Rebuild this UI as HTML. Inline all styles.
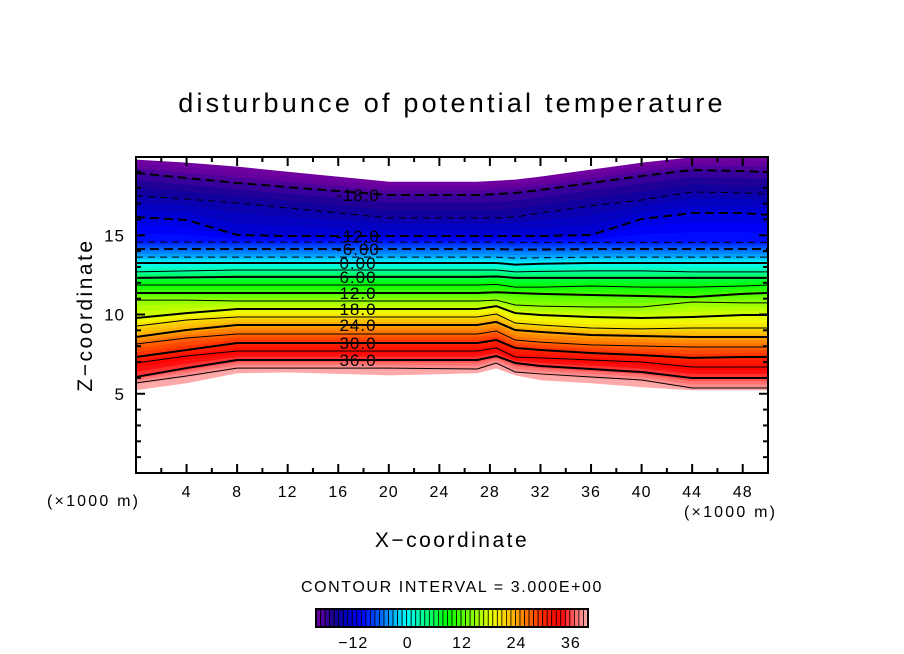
<!DOCTYPE html>
<html><head><meta charset="utf-8"><style>
body{margin:0;background:#fff;}
svg{display:block;font-family:"Liberation Sans",sans-serif;}
</style></head><body>
<svg id="chart" width="904" height="654" viewBox="0 0 904 654" xmlns="http://www.w3.org/2000/svg">
<rect width="904" height="654" fill="#fff"/>
<text x="452" y="112" text-anchor="middle" font-size="27" fill="#000" letter-spacing="3.2">disturbunce of potential temperature</text>
<g id="field"></g>
<g id="lines"></g>
<g id="labels"></g>
<g id="axes"></g>
<text x="452" y="547" text-anchor="middle" font-size="21" letter-spacing="2.5">X−coordinate</text>
<text transform="translate(92,315) rotate(-90)" text-anchor="middle" font-size="21" letter-spacing="2.5">Z−coordinate</text>
<text x="47" y="506" font-size="16" letter-spacing="2.2">(×1000 m)</text>
<text x="684" y="517" font-size="16" letter-spacing="2.2">(×1000 m)</text>
<text x="452" y="592" text-anchor="middle" font-size="16" letter-spacing="1.6">CONTOUR INTERVAL = 3.000E+00</text>
<g id="cbar"></g>
</svg>
<script>
const xs = [0,4,8,12,20,27,28.5,30,32,36,40,44,48,50];
const levels = [-18,-15,-12,-9,-6,-3,0,3,6,9,12,15,18,21,24,27,30,33,36,39];
const topEdge = [19.75,19.56,19.31,18.99,18.36,18.36,18.42,18.49,18.68,19.12,19.56,19.9,20,19.9];
const bottomEdge = [5.24,5.68,6.31,6.37,6.18,6.31,6.62,6.18,5.87,5.68,5.43,5.24,5.24,5.24];
const lvM18 = [18.93,18.61,18.30,18.04,17.54,17.54,17.60,17.67,17.86,18.30,18.74,19.12,19.05,18.99];
const lvM15 = [17.48,17.29,17.03,16.72,16.09,16.09,16.09,16.15,16.40,16.85,17.22,17.73,17.67,17.60];
const lvM12 = [16.15,15.96,15.02,14.95,14.95,14.95,14.95,14.95,14.95,15.02,16.02,16.40,16.40,16.28];
const lvM9 = [14.57,14.57,14.57,14.57,14.57,14.57,14.57,14.55,14.55,14.55,14.55,14.55,14.55,14.55];
const lvM6 = [14.13,14.13,14.13,14.13,14.13,14.13,14.13,14.10,14.10,14.13,14.13,14.13,14.13,14.13];
const lvM3 = [13.62,13.62,13.62,13.62,13.62,13.62,13.62,13.55,13.58,13.62,13.62,13.62,13.62,13.62];
const lv0 = [13.25,13.25,13.25,13.25,13.25,13.25,13.25,13.15,13.20,13.25,13.25,13.25,13.25,13.25];
const lv3 = [12.69,12.75,12.81,12.81,12.81,12.81,12.81,12.69,12.72,12.75,12.75,12.69,12.69,12.69];
const lv6 = [12.31,12.34,12.37,12.37,12.37,12.37,12.40,12.31,12.31,12.31,12.31,12.31,12.31,12.31];
const lv9 = [11.86,11.86,11.86,11.86,11.86,11.86,11.90,11.73,11.73,11.80,11.73,11.73,11.80,11.86];
const lv12 = [11.36,11.36,11.36,11.36,11.36,11.36,11.40,11.36,11.30,11.23,11.17,11.10,11.30,11.36];
const lv15 = [10.91,10.91,10.85,10.85,10.85,10.85,10.91,10.60,10.53,10.47,10.47,10.79,10.73,10.73];
const lv18 = [9.78,10.09,10.35,10.35,10.35,10.35,10.53,10.09,9.97,9.84,9.78,9.84,9.97,9.97];
const lv21 = [9.27,9.65,9.84,9.84,9.84,9.84,10.03,9.46,9.34,9.15,9.09,9.15,9.15,9.15];
const lv24 = [8.58,9.02,9.34,9.34,9.34,9.34,9.53,9.02,8.90,8.71,8.64,8.58,8.58,8.58];
const lv27 = [8.14,8.52,8.77,8.77,8.77,8.77,8.96,8.39,8.26,8.08,8.01,7.95,7.95,7.95];
const lv30 = [7.32,7.76,8.20,8.20,8.20,8.20,8.39,7.89,7.76,7.57,7.44,7.26,7.32,7.32];
const lv33 = [6.94,7.38,7.70,7.70,7.70,7.70,7.89,7.32,7.26,7.13,7.00,6.69,6.69,6.69];
const lv36 = [6.06,6.62,7.13,7.13,7.13,7.13,7.38,6.94,6.75,6.56,6.37,5.99,5.99,5.99];
const lv39 = [5.68,6.12,6.62,6.62,6.62,6.56,6.94,6.37,6.25,6.06,5.87,5.36,5.36,5.36];
const levelLines = [lvM18,lvM15,lvM12,lvM9,lvM6,lvM3,lv0,lv3,lv6,lv9,lv12,lv15,lv18,lv21,lv24,lv27,lv30,lv33,lv36,lv39];
const labelText = ["-18.0","-12.0","-6.00","0.00","6.00","12.0","18.0","24.0","30.0","36.0"];
const labelLevels = [-18,-12,-6,0,6,12,18,24,30,36];
const xTicks = [4,8,12,16,20,24,28,32,36,40,44,48];
const yTicks = [5,10,15];
const cbarTicks = [-12,0,12,24,36];

const NS="http://www.w3.org/2000/svg";
const X0=136,X1=768,Y0=473,Y1=157;
const xS=x=>X0+x/50*(X1-X0);
const yS=z=>Y0-z*15.85;
const stops=[[-20,[112,0,160]],[-16,[20,0,150]],[-13,[0,0,200]],[-10,[0,0,255]],[-5,[0,120,255]],[0,[0,255,255]],[4,[0,255,140]],[9,[0,255,0]],[14,[120,255,0]],[19,[240,255,0]],[24,[255,170,0]],[30,[255,40,0]],[34,[255,0,0]],[38,[255,130,130]],[40,[255,170,170]]];
function col(v){
  for(let i=0;i<stops.length-1;i++){const a=stops[i],b=stops[i+1];
    if(v<=b[0]){const t=Math.max(0,(v-a[0])/(b[0]-a[0]));return 'rgb('+a[1].map((c,k)=>Math.round(c+(b[1][k]-c)*t)).join(',')+')';}}
  return 'rgb(255,170,170)';
}
function mk(tag,attrs,parent){const e=document.createElementNS(NS,tag);for(const k in attrs)e.setAttribute(k,attrs[k]);parent.appendChild(e);return e;}
const field=document.getElementById('field');
const bounds=[topEdge].concat(levelLines).concat([bottomEdge]);
const bandBase=[-21].concat(levels);
for(let b=0;b<bounds.length-1;b++){
  const up=bounds[b],lo=bounds[b+1];
  // upper boundary corresponds to lower value (values increase downward)
  for(let s=0;s<3;s++){
    const f0=s/3,f1=(s+1)/3;
    // sub-band near "lo" has higher value
    const a=up.map((u,i)=>u+(lo[i]-u)*f0), c=up.map((u,i)=>u+(lo[i]-u)*f1);
    const v=(b===0)?(bandBase[1]-3+s+0.5):(bandBase[b]+s+0.5);
    const pts=xs.map((x,i)=>xS(x)+','+Math.max(Y1,yS(a[i]))).concat(xs.map((x,i)=>xS(x)+','+Math.max(Y1,yS(c[i]))).reverse());
    const p=mk('polygon',{points:pts.join(' '),fill:col(v),stroke:col(v),'stroke-width':0.6},field);
    
    
  }
}
const lg=document.getElementById('lines');
levelLines.forEach((arr,j)=>{
  const lv=levels[j];
  const thick=(lv%6===0);
  const pts=xs.map((x,i)=>xS(x)+','+Math.max(Y1,yS(arr[i]))).join(' ');
  const a={points:pts,fill:'none',stroke:'#000','stroke-width':thick?2:1};
  if(lv<0)a['stroke-dasharray']=thick?'9,5':'7,5';
  const l=mk('polyline',a,lg);
  
  
});
const lb=document.getElementById('labels');
labelLevels.forEach((lv,k)=>{
  const arr=levelLines[levels.indexOf(lv)];
  const y=yS(arr[4]);
  const t=mk('text',{x:358,y:y+6,'text-anchor':'middle','font-size':17,'letter-spacing':1,fill:'#000'},lb);
  t.textContent=labelText[k];
  
  
});
const ax=document.getElementById('axes');
mk('rect',{x:X0,y:Y1,width:X1-X0,height:Y0-Y1,fill:'none',stroke:'#000','stroke-width':2},ax);
for(let x=2;x<50;x+=2){
  const L=(x%4===0)?9:5;
  mk('line',{x1:xS(x),x2:xS(x),y1:Y0,y2:Y0-L,stroke:'#000','stroke-width':2},ax);
  mk('line',{x1:xS(x),x2:xS(x),y1:Y1,y2:Y1+L,stroke:'#000','stroke-width':2},ax);
}
for(let z=1;z<20;z++){
  const L=(z%5===0)?9:5;
  mk('line',{x1:X0,x2:X0+L,y1:yS(z),y2:yS(z),stroke:'#000','stroke-width':2},ax);
  mk('line',{x1:X1,x2:X1-L,y1:yS(z),y2:yS(z),stroke:'#000','stroke-width':2},ax);
}
xTicks.forEach(v=>{
  const t=mk('text',{x:xS(v),y:497,'text-anchor':'middle','font-size':16,'letter-spacing':1},ax);
  t.textContent=v;
  
  
});
yTicks.forEach(v=>{
  const t=mk('text',{x:125,y:yS(v)+6,'text-anchor':'end','font-size':17,'letter-spacing':1},ax);
  t.textContent=v;
  
  
});
const cb=document.getElementById('cbar');
const CB0=316,CB1=588,cbS=v=>CB0+(v+20)/60*(CB1-CB0);
for(let v=-20;v<40;v++){
  const r=mk('rect',{x:cbS(v),y:609,width:(CB1-CB0)/60,height:18,fill:col(v+0.5),stroke:'#000','stroke-width':0.8},cb);
  
  
}
mk('rect',{x:CB0,y:609,width:CB1-CB0,height:18,fill:'none',stroke:'#000','stroke-width':2},cb);
cbarTicks.forEach(v=>{
  const t=mk('text',{x:cbS(v)+1,y:648,'text-anchor':'middle','font-size':16,'letter-spacing':1},cb);
  t.textContent=v<0?'−'+(-v):String(v);
  
  
});
</script>
</body></html>
